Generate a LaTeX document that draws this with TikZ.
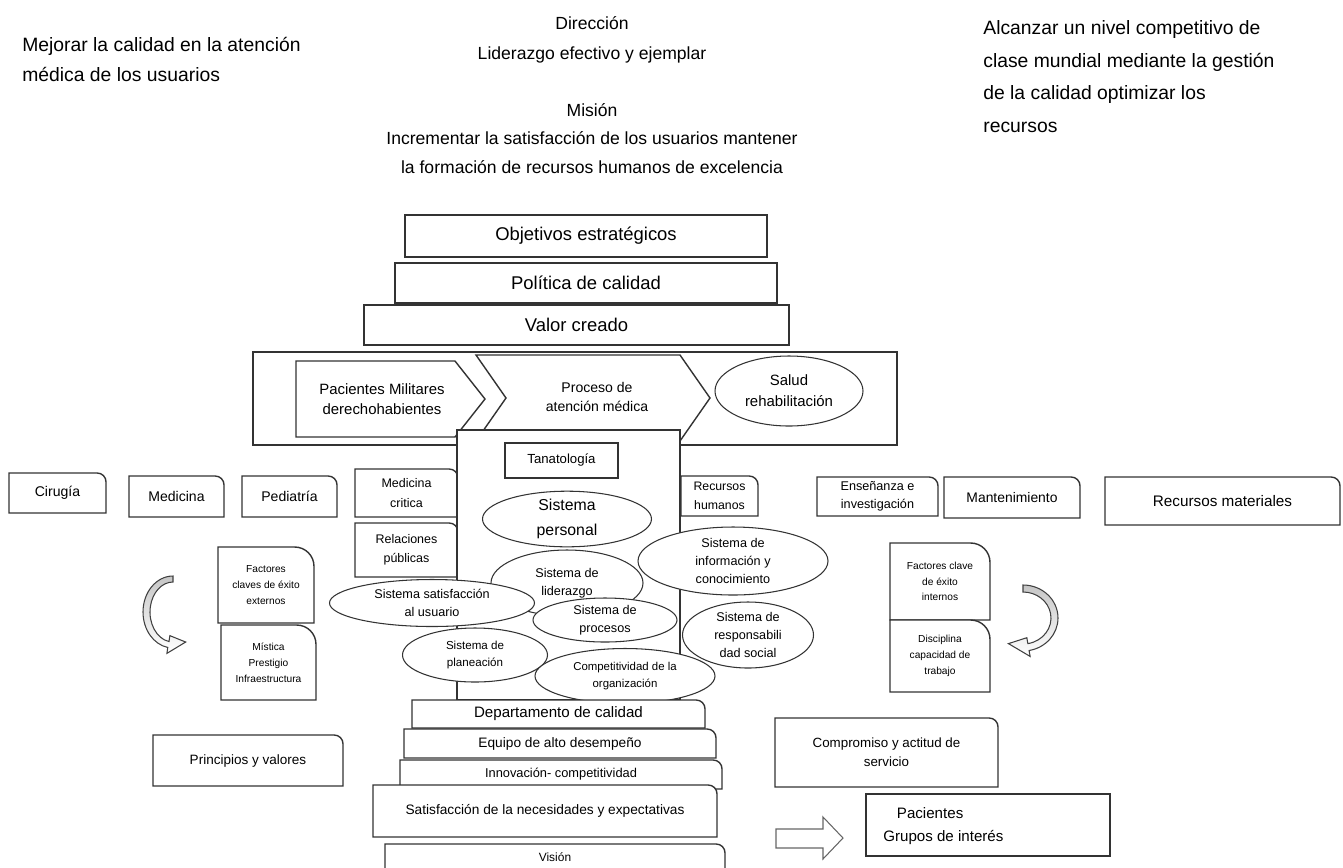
\documentclass[tikz,border=0pt]{standalone}
\usepackage{fontspec}
\setmainfont{Liberation Sans}
\usetikzlibrary{calc,shapes.geometric,positioning}

\newcommand{\pxu}{0.02cm}
\newcommand{\fs}[2]{\fontsize{#1}{#2}\selectfont}
\def\boxrad{5pt}
% box with one rounded corner (top right)
\newcommand{\cbox}[7][]{%
  \draw[boxline] (#3,#6) -- (#3,#4) [rounded corners=\boxrad] -- (#5,#4) [sharp corners] -- (#5,#6) -- cycle;
  \node[txt,#1] (#2) at ({(#3+#5)/2},{(#4+#6)/2}) {#7};}
% plain box
\newcommand{\qbox}[7][]{%
  \draw[boxline] (#3,#4) rectangle (#5,#6);
  \node[txt,#1] (#2) at ({(#3+#5)/2},{(#4+#6)/2}) {#7};}

\tikzset{
  boxline/.style={draw=black!80, line width=0.8pt, fill=white},
  txt/.style={align=center, inner sep=0pt, font=\fs{8}{9.5}},
  sis/.style={ellipse, draw=black!80, line width=0.6pt, fill=white, align=center, inner sep=0pt},
  curvy/.style={draw=black!75, line width=0.6pt, top color=gray!45, bottom color=white},
  lead/.style={inner sep=0pt, align=left, font=\fs{11}{17}}
}

\begin{document}
\begin{tikzpicture}[x=\pxu, y=-\pxu]
  \useasboundingbox (0,0) rectangle (1343,867);
  \clip (0,0) rectangle (1343,867);

  % heading texts
  \node[lead, anchor=north west] (meta) at (22,37) {Mejorar la calidad en la atención\\médica de los usuarios};
  \node[lead, anchor=north west, font=\fs{11}{18.6}] (alca) at (983,20) {Alcanzar un nivel competitivo de\\clase mundial mediante la gestión\\de la calidad optimizar los\\recursos};
  \node[lead, align=center, anchor=north, font=\fs{10}{17}] (dir) at (592,16) {Dirección\\Liderazgo efectivo y ejemplar};
  \node[lead, align=center, anchor=north, font=\fs{10}{16.3}] (mis) at (592,103) {Misión\\Incrementar la satisfacción de los usuarios mantener\\la formación de recursos humanos de excelencia};

  % upper stack
  \qbox[font=\fs{10.5}{12}]{obj}{405}{215}{767}{257}{Objetivos estratégicos}
  \qbox[font=\fs{10.5}{12}]{pol}{395}{263}{777}{303}{Política de calidad}
  \qbox[font=\fs{10.5}{12}]{val}{364}{305}{789}{345}{Valor creado}

  % process band
  \draw[boxline] (253,352) rectangle (897,445);
  \draw[boxline, fill=none] (296,361) -- (455,361) -- (485,399) -- (455,437) -- (296,437) -- cycle;
  \node[txt, font=\fs{8.5}{11}] (pac) at (382,399) {Pacientes Militares\\derechohabientes};
  \draw[boxline, fill=none] (476,355) -- (680,355) -- (710,398) -- (680,441) -- (476,441) -- (506,398) -- cycle;
  \node[txt, font=\fs{8}{11}] (pro) at (597,397) {Proceso de\\atención médica};
  \node[sis, minimum width=148*\pxu, minimum height=70*\pxu, font=\fs{8.5}{12}] (sal) at (789,391) {Salud\\rehabilitación};

  % departments, left
  \foreach \n/\xa/\ya/\xb/\yb/\t in {cir/9/473/106/513/Cirugía, med/129/476/224/517/Medicina, ped/242/476/337/517/Pediatría}
    \cbox{\n}{\xa}{\ya}{\xb}{\yb}{\t};
  \cbox[font=\fs{7.1}{11}]{mcr}{355}{469}{458}{517}{Medicina\\critica}
  \cbox[font=\fs{7.1}{11}]{rel}{355}{523}{458}{577}{Relaciones\\públicas}

  % central block
  \draw[boxline] (457,430) rectangle (680,700);
  \qbox[font=\fs{7.5}{9}]{tan}{505}{443}{618}{478}{Tanatología}

  % departments, right
  \cbox[font=\fs{7}{10.5}]{rhu}{681}{476}{758}{516}{Recursos\\humanos}
  \cbox[font=\fs{7.2}{10.5}]{ens}{817}{477}{938}{516}{Enseñanza e\\investigación}
  \cbox[font=\fs{7.9}{9}]{man}{944}{477}{1080}{518}{Mantenimiento}
  \cbox[font=\fs{8.7}{10}]{rma}{1105}{477}{1340}{525}{Recursos materiales}

  % systems
  \node[sis, minimum width=169*\pxu, minimum height=48*\pxu, font=\fs{9}{14}] (sper) at (567,519) {Sistema\\personal};
  \node[sis, minimum width=152*\pxu, minimum height=66*\pxu, font=\fs{7.2}{10.5}] (slid) at (567,583) {Sistema de\\liderazgo};
  \node[sis, minimum width=190*\pxu, minimum height=68*\pxu, font=\fs{7.2}{10.5}] (sinf) at (733,561) {Sistema de\\información y\\conocimiento};
  \node[sis, minimum width=205*\pxu, minimum height=47*\pxu, font=\fs{7.2}{10.5}] (ssat) at (432,603) {Sistema satisfacción\\al usuario};
  \node[sis, minimum width=144*\pxu, minimum height=44*\pxu, font=\fs{7.2}{10.5}] (spro) at (605,620) {Sistema de\\procesos};
  \node[sis, minimum width=131*\pxu, minimum height=66*\pxu, font=\fs{7.2}{10.5}] (sres) at (748,635) {Sistema de\\responsabili\\dad social};
  \node[sis, minimum width=145*\pxu, minimum height=54*\pxu, font=\fs{6.6}{10}] (spla) at (475,655) {Sistema de\\planeación};
  \node[sis, minimum width=180*\pxu, minimum height=55*\pxu, font=\fs{6.5}{9.5}] (scom) at (625,676) {Competitividad de la\\organización};

  % key factors
  \begin{scope}
    \def\boxrad{11pt}
    \cbox[font=\fs{5.8}{9}]{fext}{218}{547}{314}{623}{Factores\\claves de éxito\\externos}
    \cbox[font=\fs{5.8}{9}]{mis}{221}{625}{316}{700}{Mística\\Prestigio\\Infraestructura}
    \cbox[font=\fs{5.8}{9}]{fint}{890}{543}{990}{620}{Factores clave\\de éxito\\internos}
    \cbox[font=\fs{5.8}{9}]{dis}{890}{620}{990}{692}{Disciplina\\capacidad de\\trabajo}
  \end{scope}

  % turning arrows
  \coordinate (lc) at (173,612);
  \draw[curvy] ($(lc)+(270:30 and 36)$) arc[start angle=270, end angle=100, x radius=30, y radius=36]
    -- ($(lc)+(100:35 and 42)$) -- ($(lc)+(62:27 and 34)$) -- ($(lc)+(100:18 and 24)$)
    -- ($(lc)+(100:23 and 30)$) arc[start angle=100, end angle=270, x radius=23, y radius=30] -- cycle;
  \coordinate (rc) at (1023,618);
  \draw[curvy] ($(rc)+(270:35 and 33)$) arc[start angle=270, end angle=440, x radius=35, y radius=33]
    -- ($(rc)+(440:41 and 39)$) -- ($(rc)+(478:31 and 29)$) -- ($(rc)+(440:22 and 20)$)
    -- ($(rc)+(440:28 and 26)$) arc[start angle=440, end angle=270, x radius=28, y radius=26] -- cycle;

  % lower stack
  \cbox[font=\fs{8.6}{10}]{dep}{412}{700}{705}{728}{Departamento de calidad}
  \cbox[font=\fs{7.8}{9}]{equ}{404}{729}{716}{758}{Equipo de alto desempeño}
  \cbox[font=\fs{7.3}{9}]{inn}{400}{760}{722}{789}{Innovación- competitividad}
  \cbox[font=\fs{7.8}{9}]{sne}{373}{785}{717}{837}{Satisfacción de la necesidades y expectativas}
  \cbox[font=\fs{6.8}{8}]{vis}{385}{844}{725}{890}{}
  \node[txt, font=\fs{6.8}{8}] (vist) at (555,857) {Visión};

  % values and service
  \cbox[font=\fs{7.7}{9}]{pri}{153}{735}{343}{786}{Principios y valores}
  \cbox[font=\fs{7.6}{11}]{com}{775}{718}{998}{787}{Compromiso y actitud de\\servicio}
  \draw[boxline] (866,794) rectangle (1110,856);
  \node[txt, anchor=west, align=left, font=\fs{8.6}{13}] (gru) at (883,826) {\hspace{0.9em}Pacientes\\Grupos de interés};
  \draw[draw=black!60, line width=0.6pt, fill=white] (776,829) -- (823,829) -- (823,817) -- (843,838) -- (823,859) -- (823,848) -- (776,848) -- cycle;
\end{tikzpicture}
\end{document}
